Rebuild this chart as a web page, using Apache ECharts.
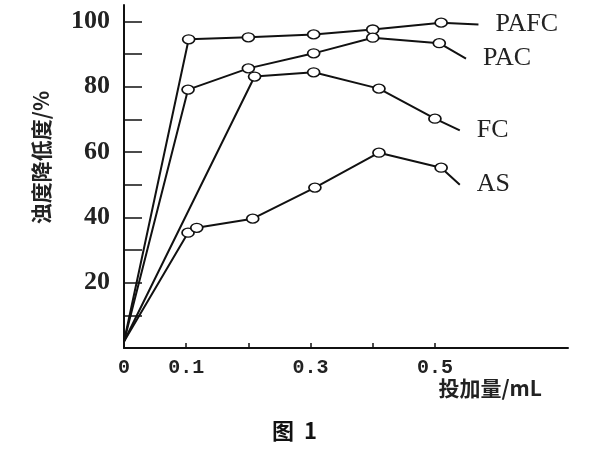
<!DOCTYPE html>
<html>
<head>
<meta charset="utf-8">
<script src="https://cdn.jsdelivr.net/npm/echarts@6/dist/echarts.min.js"></script>
<style>html,body{margin:0;padding:0;background:#fff;}#c{width:600px;height:450px;}</style>
</head>
<body>
<div id="c"></div>
<script>
// Data (x = dosage mL, y = reduction %)
var pafcX = [0, 0.104, 0.2, 0.305, 0.4, 0.51, 0.57];
var pafcY = [2, 94.5, 95.1, 96, 97.5, 99.6, 99];
var pacX = [0, 0.103, 0.2, 0.305, 0.4, 0.507, 0.55];
var pacY = [2, 79.1, 85.6, 90.2, 95, 93.3, 88.6];
var fcX = [0, 0.21, 0.305, 0.41, 0.5, 0.54];
var fcY = [2, 83.1, 84.4, 79.4, 70.2, 66.6];
var asX = [0, 0.103, 0.117, 0.207, 0.307, 0.41, 0.51, 0.54];
var asY = [2, 35.3, 36.8, 39.6, 49.1, 59.8, 55.2, 50];
var seriesNames = ['PAFC', 'PAC', 'FC', 'AS'];
var xTickValues = [0.1, 0.2, 0.3, 0.4, 0.5];
var xLabelValues = [0, 0.1, 0.3, 0.5];
var yTickValues = [10, 20, 30, 40, 50, 60, 70, 80, 90, 100];
var yLabelValues = [20, 40, 60, 80, 100];
var xName = '投加量/mL';
var yName = '浊度降低度/%';
var figCaption = '图  1';

function build(xs, ys) {
  return xs.map(function (x, i) {
    var item = { value: [x, ys[i]] };
    if (i === 0 || i === xs.length - 1) item.symbol = 'none';
    return item;
  });
}
var allX = [pafcX, pacX, fcX, asX];
var allY = [pafcY, pacY, fcY, asY];

var chart = echarts.init(document.getElementById('c'));
chart.setOption({
  backgroundColor: '#fff',
  animation: false,
  grid: { left: 124, right: 32, top: 5, bottom: 102 },
  xAxis: {
    type: 'value', min: 0, max: 0.714,
    axisLine: { lineStyle: { color: '#111', width: 2 } },
    axisTick: { show: true, inside: true, length: 5, customValues: xTickValues, lineStyle: { color: '#111', width: 1.5 } },
    axisLabel: { customValues: xLabelValues, margin: 10, color: '#222', fontFamily: 'Liberation Mono', fontWeight: 'bold', fontSize: 20,
      formatter: function (v) { return v === 0 ? '0' : v.toFixed(1); } },
    splitLine: { show: false },
    name: xName, nameLocation: 'end', nameGap: -26,
    nameTextStyle: { align: 'right', verticalAlign: 'top', padding: [30, 0, 0, 0], color: '#222', fontFamily: 'Noto Sans CJK SC', fontWeight: 'bold', fontSize: 21 }
  },
  yAxis: {
    type: 'value', min: 0, max: 105,
    axisLine: { show: true, lineStyle: { color: '#111', width: 2 } },
    axisTick: { show: true, inside: true, length: 18, customValues: yTickValues, lineStyle: { color: '#111', width: 1.5 } },
    axisLabel: { customValues: yLabelValues, margin: 14, color: '#222', fontFamily: 'Liberation Serif', fontWeight: 'bold', fontSize: 26 },
    splitLine: { show: false },
    name: yName, nameLocation: 'middle', nameRotate: 90, nameGap: 72,
    nameTextStyle: { padding: [0, 0, 0, 38], color: '#222', fontFamily: 'Noto Sans CJK SC', fontWeight: 'bold', fontSize: 21 }
  },
  series: seriesNames.map(function (n, k) {
    return {
      name: n, type: 'line', data: build(allX[k], allY[k]),
      symbol: 'circle', symbolSize: [12, 9], showAllSymbol: true,
      itemStyle: { color: '#fff', borderColor: '#111', borderWidth: 1.5 },
      lineStyle: { color: '#111', width: 2 },
      endLabel: { show: true, formatter: n, distance: 17, color: '#222', fontFamily: 'Liberation Serif', fontSize: 26 },
      z: 2
    };
  }),
  graphic: [
    { type: 'text', left: 272, top: 420, style: { text: figCaption, fill: '#111', font: 'bold 22px "Noto Sans CJK SC"' } }
  ]
});
</script>
</body>
</html>
